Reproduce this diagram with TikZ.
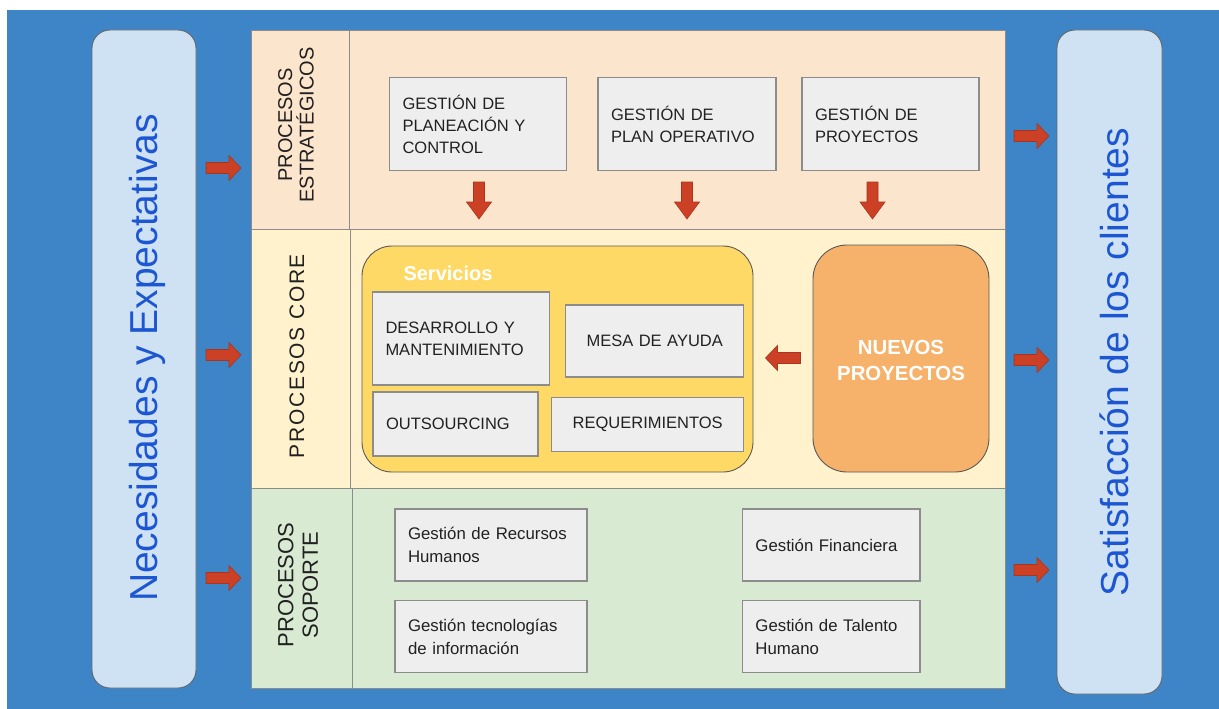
\documentclass[tikz,border=0pt]{standalone}
\usepackage{fontspec}
\setmainfont{Liberation Sans}
\definecolor{bgblue}{HTML}{3D85C6}
\definecolor{pillfill}{HTML}{CFE2F3}
\definecolor{pilltext}{HTML}{1D56D2}
\definecolor{stratfill}{HTML}{FCE5CD}
\definecolor{corefill}{HTML}{FFF2CC}
\definecolor{suppfill}{HTML}{D9EAD3}
\definecolor{servfill}{HTML}{FFD966}
\definecolor{nuevofill}{HTML}{F6B26B}
\definecolor{boxfill}{HTML}{EEEEEE}
\definecolor{boxline}{HTML}{8C8C8C}
\definecolor{arrowred}{HTML}{CC4125}
\definecolor{arrowedge}{HTML}{A8351D}
\definecolor{txt}{HTML}{212121}
\begin{document}
\begin{tikzpicture}[x=1pt,y=-1pt,
  pillbox/.style={draw=gray!80!black, fill=pillfill, line width=0.9pt, rounded corners=18pt, inner sep=0pt},
  pilllabel/.style={rotate=90, text=pilltext, font=\fontsize{39}{42}\selectfont, inner sep=0pt},
  rowbox/.style={draw=boxline, line width=0.8pt, inner sep=0pt},
  rowlabel/.style={rotate=90, text=txt, align=center, inner sep=0pt},
  procbox/.style={draw=boxline, fill=boxfill, line width=1.2pt, inner xsep=13pt, inner ysep=0pt, text=txt, font=\fontsize{16.5}{22}\selectfont},
  suppbox/.style={procbox, font=\fontsize{16.8}{22.5}\selectfont},
  roundbox/.style={draw=gray!70!black, line width=0.9pt, rounded corners=30pt, inner sep=0pt},
  whitebold/.style={text=white, font=\bfseries\fontsize{20.4}{26}\selectfont, align=center, inner sep=0pt},
  arrowstyle/.style={fill=arrowred, draw=arrowedge, line width=0.6pt},
  harrow/.pic={\draw[arrowstyle] (-17.5,-5.5) -- (5.5,-5.5) -- (5.5,-12.5) -- (17.5,0) -- (5.5,12.5) -- (5.5,5.5) -- (-17.5,5.5) -- cycle;},
  varrow/.pic={\draw[arrowstyle] (-18.5,-5.5) -- (1.5,-5.5) -- (1.5,-12.5) -- (18.5,0) -- (1.5,12.5) -- (1.5,5.5) -- (-18.5,5.5) -- cycle;}
]
\useasboundingbox (0,0) rectangle (1219,709);
\fill[white] (0,0) rectangle (1219,709);
\fill[bgblue] (7,10) rectangle (1219,709);

% side pills
\node[pillbox, minimum width=104pt, minimum height=658pt] (need) at (144,359) {};
\node[pilllabel] (needtxt) at (147,358) {Necesidades y Expectativas};
\node[pillbox, minimum width=105pt, minimum height=664pt] (sat) at (1109.5,362) {};
\node[pilllabel] (sattxt) at (1114,362) {Satisfacción de los clientes};

% rows
\node[rowbox, fill=stratfill, minimum width=754pt, minimum height=199pt] (rowS) at (628,129.5) {};
\node[rowbox, fill=corefill, minimum width=754pt, minimum height=259pt] (rowC) at (628,358.5) {};
\node[rowbox, fill=suppfill, minimum width=754pt, minimum height=200pt] (rowP) at (628,588) {};
\draw[boxline, line width=0.8pt] (349,30) -- (349,229);
\draw[boxline, line width=0.8pt] (350,229) -- (350,488);
\draw[boxline, line width=0.8pt] (352,488) -- (352,688);

% row labels
\node[rowlabel, font=\fontsize{20}{21.5}\selectfont] (labS) at (296,125) {PROCESOS\\ESTRATÉGICOS};
\node[rowlabel, font=\fontsize{21}{24}\selectfont\addfontfeature{LetterSpace=8}] (labC) at (297,356) {PROCESOS CORE};
\node[rowlabel, font=\fontsize{22}{24.5}\selectfont] (labP) at (298,585) {PROCESOS\\SOPORTE};

% strategic boxes
\node[procbox, text width=151pt, minimum height=93pt, align=left] (gpc) at (478,124) {GESTIÓN DE\\PLANEACIÓN Y\\CONTROL};
\node[procbox, text width=152pt, minimum height=93pt, align=left] (gpo) at (687,124) {GESTIÓN DE\\PLAN OPERATIVO};
\node[procbox, text width=151pt, minimum height=93pt, align=left] (gp) at (890.5,124) {GESTIÓN DE\\PROYECTOS};
\pic[rotate=-90] at (479,200.5) {varrow};
\pic[rotate=-90] at (687,200.5) {varrow};
\pic[rotate=-90] at (872.5,200.5) {varrow};

% core
\node[roundbox, fill=servfill, minimum width=391pt, minimum height=226pt] (serv) at (557.5,359) {};
\node[whitebold, font=\bfseries\fontsize{20}{24}\selectfont] (servtxt) at (448,273) {Servicios};
\node[procbox, text width=151pt, minimum height=93pt, align=left] (dm) at (461,338.5) {DESARROLLO Y\\MANTENIMIENTO};
\node[procbox, text width=152pt, minimum height=72pt, align=center] (mesa) at (654.7,341) {MESA DE AYUDA};
\node[procbox, text width=139pt, minimum height=64pt, align=left] (out) at (455.5,424) {OUTSOURCING};
\node[procbox, text width=166pt, minimum height=54pt, align=center] (req) at (647.7,424.7) {REQUERIMIENTOS};
\node[roundbox, fill=nuevofill, minimum width=176pt, minimum height=227pt, rounded corners=34pt] (np) at (901,358.5) {};
\node[whitebold] (nptxt) at (901,360) {NUEVOS\\PROYECTOS};
\pic[rotate=180] at (783,358) {harrow};

% support
\node[suppbox, text width=166pt, minimum height=72pt, align=left] (grh) at (491,545) {Gestión de Recursos\\Humanos};
\node[suppbox, text width=166pt, minimum height=72pt, align=left] (gti) at (491,636.7) {Gestión tecnologías\\de información};
\node[suppbox, text width=151.5pt, minimum height=72pt, align=left] (gf) at (831.2,545) {Gestión Financiera};
\node[suppbox, text width=151.5pt, minimum height=72pt, align=left] (gth) at (831.2,636.7) {Gestión de Talento\\Humano};

% side arrows
\pic at (223.5,168) {harrow};
\pic at (223.5,355) {harrow};
\pic at (223.5,578) {harrow};
\pic at (1031.5,136) {harrow};
\pic at (1031.5,360) {harrow};
\pic at (1031.5,570) {harrow};
\end{tikzpicture}
\end{document}
